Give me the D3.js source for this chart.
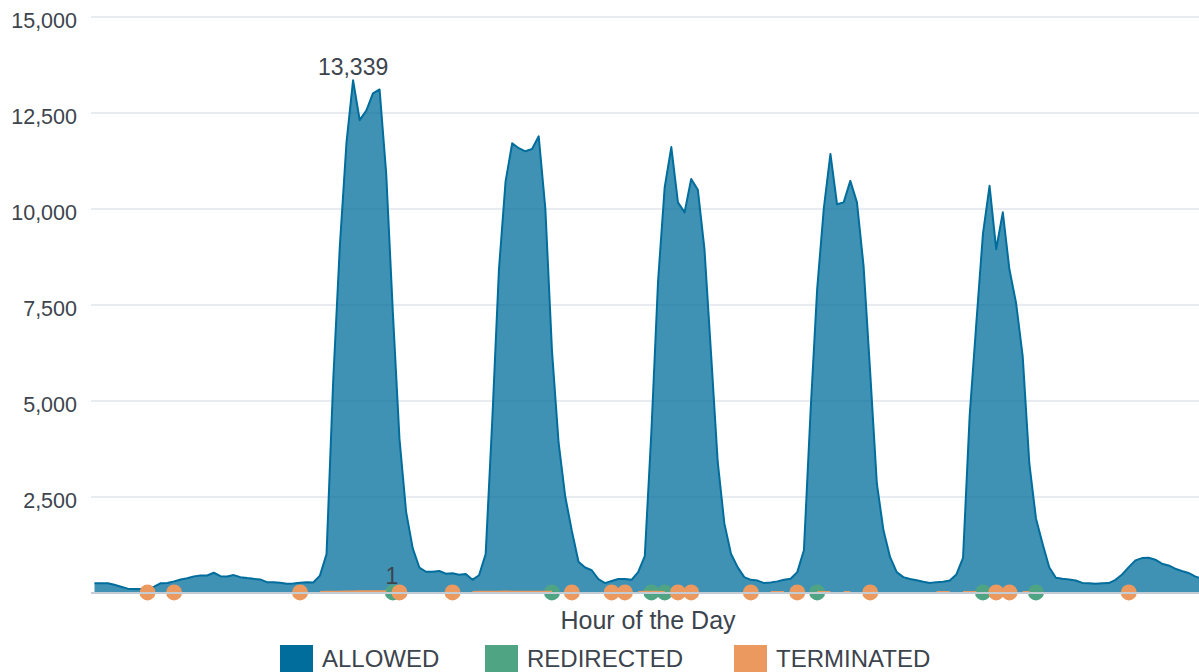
<!DOCTYPE html>
<html>
<head>
<meta charset="utf-8">
<script src="https://cdn.jsdelivr.net/npm/d3@7"></script>
<style>
    body { margin: 0; background: #fff; }
    text { font-family: "Liberation Sans", Arial, sans-serif; fill: #3c444d; }
</style>
</head>
<body>
<svg id="chart" width="1199" height="672"></svg>
<script>
// hourly ALLOWED counts over the week (one value per hour)
const allowed = [
    243, 243, 243, 200, 150, 100, 92, 90, 100, 150, 243, 248,
    290, 340, 370, 420, 444, 444, 514, 426, 418, 453, 400, 375,
    355, 340, 270, 265, 255, 226, 235, 255, 270, 261, 440, 1000,
    5500, 9000, 11700, 13339, 12300, 12550, 13000, 13100, 10900, 7300, 4000, 2100,
    1150, 650, 540, 540, 560, 490, 500, 460, 480, 330, 450, 1000,
    4500, 8400, 10700, 11700, 11570, 11490, 11550, 11880, 10000, 6300, 3900, 2500,
    1600, 800, 650, 580, 350, 245, 300, 350, 350, 330, 530, 950,
    4200, 8100, 10550, 11600, 10160, 9900, 10770, 10490, 8940, 6200, 3400, 1800,
    1010, 660, 400, 330, 310, 245, 260, 290, 330, 357, 530, 1100,
    4700, 7900, 10000, 11420, 10110, 10160, 10720, 10160, 8500, 5720, 2840, 1620,
    920, 530, 400, 350, 320, 280, 245, 270, 280, 313, 470, 900,
    4600, 7000, 9330, 10590, 8940, 9900, 8410, 7540, 6150, 3360, 1930, 1270,
    660, 383, 357, 340, 313, 250, 240, 226, 240, 245, 330, 470,
    660, 836, 896, 906, 854, 750, 705, 620, 560, 510, 420, 360
];

// sparse series: [hour, count]
const redirected = [
    [45, 1], [64, 1], [65, 1], [69, 1], [84, 1], [86, 1], [109, 1], [134, 1], [142, 1]
];
const terminated = [
    [8, 1], [12, 1], [31, 1],
    [34, 15], [35, 18], [36, 20], [37, 22], [38, 25], [39, 28], [40, 30], [41, 32], [42, 30], [43, 34], [44, 30],
    [46, 1], [54, 1],
    [57, 15], [58, 18], [59, 20], [60, 22], [61, 20], [62, 24], [63, 22], [64, 20], [65, 22], [66, 18], [67, 20], [68, 22], [69, 20],
    [72, 1], [78, 1], [80, 1],
    [82, 15], [83, 18], [84, 20], [85, 18], [86, 15],
    [88, 1], [90, 1], [99, 1],
    [102, 12], [103, 15], [104, 12],
    [106, 1],
    [109, 12], [110, 15], [111, 12],
    [113, 12], [114, 12],
    [117, 1],
    [127, 12], [128, 15], [129, 12],
    [131, 12], [132, 15], [133, 12],
    [136, 1], [138, 1],
    [140, 12], [141, 12],
    [156, 1]
];

const seriesNames = ['ALLOWED', 'REDIRECTED', 'TERMINATED'];
const seriesColors = ['#006d9c', '#4fa484', '#ec9960'];
const yTicks = [2500, 5000, 7500, 10000, 12500, 15000];
const xTitle = 'Hour of the Day';

const plot_left = 91;
const plot_right = 1199;
const n_hours = allowed.length;
const hour_step = 6.63;

const svg = d3.select('#chart');

const x = d3.scaleLinear().domain([0, n_hours - 1]).range([94.5, 94.5 + (n_hours - 1) * hour_step]);
const y = d3.scaleLinear().domain([0, 15000]).range([592.5, 16.5]);
const fmt = d3.format(',');

// grid + y labels (no label at zero)
const y_axis = d3.axisLeft(y)
    .tickValues(yTicks)
    .tickFormat(fmt)
    .tickSize(-(plot_right - plot_left))
    .tickPadding(14);
const gy = svg.append('g').attr('transform', `translate(${plot_left},0)`).call(y_axis);
gy.select('.domain').remove();
gy.selectAll('.tick line').attr('stroke', '#e1e6eb').attr('stroke-width', 1.5);
gy.selectAll('.tick text')
    .attr('font-size', 21.5)
    .attr('fill', '#3c444d')
    .attr('dy', '0.5em')
    .style('font-family', '"Liberation Sans", Arial, sans-serif');

const plot = svg.append('g');

// allowed area
const allowed_pts = allowed.map((v, i) => [i, v]);
plot.append('path')
    .datum(allowed_pts)
    .attr('fill', seriesColors[0])
    .attr('fill-opacity', 0.75)
    .attr('d', d3.area().x(d => x(d[0])).y0(y(0)).y1(d => y(d[1])));
plot.append('path')
    .datum(allowed_pts)
    .attr('fill', 'none')
    .attr('stroke', seriesColors[0])
    .attr('stroke-width', 2)
    .attr('stroke-linejoin', 'round')
    .attr('d', d3.line().x(d => x(d[0])).y(d => y(d[1])));

// baseline
svg.append('line')
    .attr('x1', plot_left).attr('x2', plot_right)
    .attr('y1', y(0) + 0.5).attr('y2', y(0) + 0.5)
    .attr('stroke', '#c3cbd4').attr('stroke-width', 2);

function draw_sparse(pairs, color) {
    const full = new Array(n_hours).fill(null);
    pairs.forEach(([h, v]) => { full[h] = v; });
    const pts = full.map((v, i) => [i, v]);
    plot.append('path')
        .datum(pts)
        .attr('fill', 'none')
        .attr('stroke', color)
        .attr('stroke-width', 2)
        .attr('d', d3.line().defined(d => d[1] !== null).x(d => x(d[0])).y(d => y(d[1])));
    const lonely = pts.filter(d => d[1] !== null &&
        (d[0] === 0 || full[d[0] - 1] === null) &&
        (d[0] === n_hours - 1 || full[d[0] + 1] === null));
    plot.append('g').selectAll('circle')
        .data(lonely)
        .join('circle')
        .attr('cx', d => x(d[0]))
        .attr('cy', d => y(d[1]))
        .attr('r', 8)
        .attr('fill', color);
}
draw_sparse(redirected, seriesColors[1]);
draw_sparse(terminated, seriesColors[2]);

// max labels
const a_max = d3.maxIndex(allowed);
svg.append('text')
    .attr('x', x(a_max)).attr('y', y(allowed[a_max]) - 5)
    .attr('text-anchor', 'middle').attr('font-size', 23)
    .text(fmt(allowed[a_max]));
const r_max = redirected.reduce((a, b) => (b[1] > a[1] ? b : a));
svg.append('text')
    .attr('x', x(r_max[0]) - 1).attr('y', 584)
    .attr('text-anchor', 'middle').attr('font-size', 23)
    .text(fmt(r_max[1]));

// x title
svg.append('text')
    .attr('x', 648).attr('y', 629)
    .attr('text-anchor', 'middle').attr('font-size', 25)
    .text(xTitle);

// legend
const legend_x = [280, 485, 734];
const legend = svg.append('g');
seriesNames.forEach((name, i) => {
    const g = legend.append('g').attr('transform', `translate(${legend_x[i]},645)`);
    g.append('rect').attr('width', 33).attr('height', 33).attr('fill', seriesColors[i]);
    g.append('text').attr('x', 42).attr('y', 21.5).attr('font-size', 24).text(name);
});
</script>
</body>
</html>
